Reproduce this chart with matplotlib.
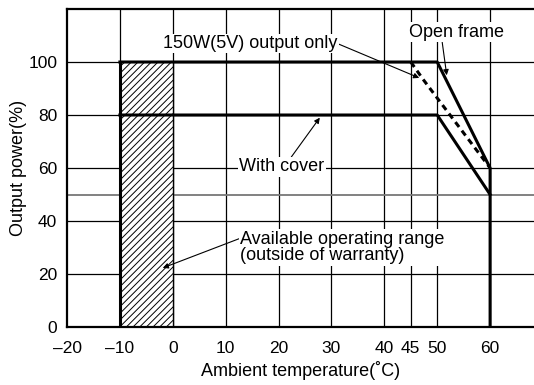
import numpy as np
import matplotlib.pyplot as plt

# derating curves (temperature in C, output power in %)
open_t = [-10, 50, 60, 60]
open_p = [100, 100, 60, 0]
cover_t = [-10, 50, 60]
cover_p = [80, 80, 50]
v5_t = [45, 47.5, 60]
v5_p = [100, 93, 60]
range_t = [-10, 0]
range_p = 100

xticks = [-20, -10, 0, 10, 20, 30, 40, 45, 50, 60]
xlabels = ['\u201320', '\u201310', '0', '10', '20', '30', '40', '45', '50', '60']
yticks = [0, 20, 40, 60, 80, 100]
ygrid = [20, 40, 60, 80, 100]

plt.rcParams['font.family'] = ['Liberation Sans', 'DejaVu Sans']
plt.rcParams['hatch.linewidth'] = 0.7
fig = plt.figure(figsize=(5.34, 3.85), dpi=100)
ax = fig.add_axes([0.1255, 0.1506, 0.8745, 0.826])

for x in xticks[1:]:
    ax.axvline(x, color='black', lw=0.9, zorder=1)
for y in ygrid:
    ax.axhline(y, color='black', lw=0.9, zorder=1)
ax.axhline(50, color='#777777', lw=1.3, zorder=1)

ax.fill_between(range_t, 0, range_p, facecolor='white', edgecolor='black',
                hatch='/////', lw=0, zorder=2)
ax.plot([0, 0], [0, range_p], color='black', lw=1.0, zorder=3)
ax.plot([-10, -10], [0, range_p], color='black', lw=2.2, zorder=3)

ax.plot(open_t, open_p, color='black', lw=2.2, zorder=4)
ax.plot(cover_t, cover_p, color='black', lw=2.2, zorder=4)
ax.plot(v5_t, v5_p, color='black', lw=2.2, ls=(0, (2, 1.5)), zorder=4)

box = dict(facecolor='white', edgecolor='none', pad=1)
arrow = dict(arrowstyle='-|>', color='black', lw=0.8, mutation_scale=8,
             shrinkA=0, shrinkB=0)
fs = 13
ax.annotate('150W(5V) output only', xy=(46.6, 94), xytext=(14.6, 107),
            ha='center', va='center', fontsize=fs, bbox=box,
            arrowprops=dict(arrow, relpos=(1, 0.5)), zorder=5)
ax.annotate('Open frame', xy=(51.8, 95), xytext=(53.6, 111.2),
            ha='center', va='center', fontsize=fs, bbox=box,
            arrowprops=dict(arrow, relpos=(0.35, 0)), zorder=5)
ax.annotate('With cover', xy=(27.8, 79), xytext=(20.6, 60.4),
            ha='center', va='center', fontsize=fs, bbox=box,
            arrowprops=dict(arrow, relpos=(0.6, 1)), zorder=5)
ax.annotate('Available operating range\n(outside of warranty)', xy=(-1.9, 22.3),
            xytext=(12.8, 30), ha='left', va='center', fontsize=fs,
            linespacing=0.95, bbox=box,
            arrowprops=dict(arrow, relpos=(0, 0.78)), zorder=5)

ax.set_xlim(-20, 68.3)
ax.set_ylim(0, 120)
ax.set_xticks(xticks)
ax.set_xticklabels(xlabels)
ax.set_yticks(yticks)
ax.tick_params(length=0, labelsize=12.5)
ax.tick_params(axis='x', pad=10)
ax.tick_params(axis='y', pad=7)
ax.spines['right'].set_visible(False)
for s in ['left', 'bottom', 'top']:
    ax.spines[s].set_linewidth(1.6)
ax.set_xlabel('Ambient temperature(\u02daC)', fontsize=13, labelpad=4)
ax.set_ylabel('Output power(%)', fontsize=13, labelpad=1)

plt.savefig('out.png', dpi=100)
